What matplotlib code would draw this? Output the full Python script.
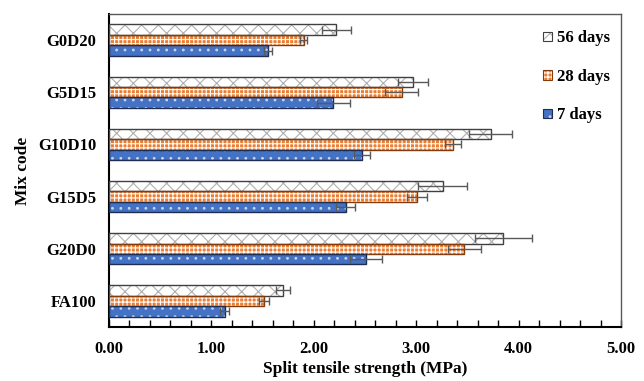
import matplotlib
matplotlib.use("Agg")
import matplotlib.pyplot as plt
import numpy as np
from matplotlib.ticker import MultipleLocator, FormatStrFormatter

plt.rcParams['font.family'] = ['Liberation Serif', 'DejaVu Serif']
plt.rcParams['font.weight'] = 'bold'
plt.rcParams['hatch.linewidth'] = 0.8

categories = ["G0D20", "G5D15", "G10D10", "G15D5", "G20D0", "FA100"]
series = ["56 days", "28 days", "7 days"]
d56 = [2.22, 2.97, 3.73, 3.26, 3.85, 1.70]
d28 = [1.90, 2.86, 3.36, 3.01, 3.47, 1.51]
d7 = [1.55, 2.19, 2.47, 2.31, 2.51, 1.13]
e56 = [0.14, 0.15, 0.21, 0.24, 0.28, 0.07]
e28 = [0.03, 0.16, 0.08, 0.10, 0.16, 0.05]
e7 = [0.04, 0.16, 0.08, 0.09, 0.16, 0.045]

styles = [
    dict(face='white', hatch_col='#B0B0B0', hatch='xx', edge='#404040'),
    dict(face='#ED7D31', hatch_col='white', hatch='++++', edge='#843C0C'),
    dict(face='#4472C4', hatch_col='#C9D6EE', hatch='..', edge='#1F2D50'),
]

fig = plt.figure(figsize=(6.44, 3.81), dpi=100)
ax = fig.add_axes([109/644, 1-327/381, (621-109)/644, (327-14)/381])

n = len(categories)
y = np.arange(n)[::-1].astype(float)
h = 0.2
offsets = [h, 0.0, -h]
vals = [d56, d28, d7]
errs = [e56, e28, e7]

handles = []
for v, e, off, st, lab in zip(vals, errs, offsets, styles, series):
    ax.barh(y + off, v, height=h, color=st['face'], edgecolor=st['hatch_col'],
            hatch=st['hatch'], linewidth=0, zorder=2)
    ax.barh(y + off, v, height=h, fill=False, edgecolor=st['edge'], linewidth=1.0, zorder=3)
    ax.errorbar(v, y + off, xerr=e, fmt='none', ecolor='#595959', elinewidth=1.0,
                capsize=3, capthick=1.0, zorder=4)
    p = plt.Rectangle((0, 0), 1, 1, facecolor=st['face'], edgecolor=st['hatch_col'],
                      hatch=st['hatch'], linewidth=0)
    handles.append((p, plt.Rectangle((0, 0), 1, 1, fill=False, edgecolor=st['edge'], linewidth=0.8)))

ax.set_xlim(0, 5)
ax.set_ylim(-0.5, n - 0.5)
ax.set_yticks(y)
ax.set_yticklabels(categories, fontsize=12, fontweight='bold')
ax.xaxis.set_major_locator(MultipleLocator(1))
ax.xaxis.set_minor_locator(MultipleLocator(0.2))
ax.xaxis.set_major_formatter(FormatStrFormatter('%.2f'))
ax.tick_params(axis='x', which='both', direction='in', length=5, width=1, color='black',
               pad=10, labelsize=12)
ax.tick_params(axis='y', length=0, pad=9, labelsize=12)
for t in ax.get_xticklabels() + ax.get_yticklabels():
    t.set_fontweight('bold')

for s in ['left', 'bottom']:
    ax.spines[s].set_linewidth(1.5)
    ax.spines[s].set_color('black')
for s in ['top', 'right']:
    ax.spines[s].set_linewidth(1.0)
    ax.spines[s].set_color('#595959')

ax.set_xlabel("Split tensile strength (MPa)", fontsize=12.5, fontweight='bold', labelpad=3)
ax.set_ylabel("Mix code", fontsize=12.5, fontweight='bold', labelpad=5)

leg = ax.legend(handles, series, loc='upper right', bbox_to_anchor=(0.978, 0.948),
                frameon=False, fontsize=12, handlelength=0.5, handleheight=0.5,
                handletextpad=0.3, labelspacing=1.35, borderaxespad=0, borderpad=0)
for t in leg.get_texts():
    t.set_fontweight('bold')

fig.savefig("out.png", dpi=100)
